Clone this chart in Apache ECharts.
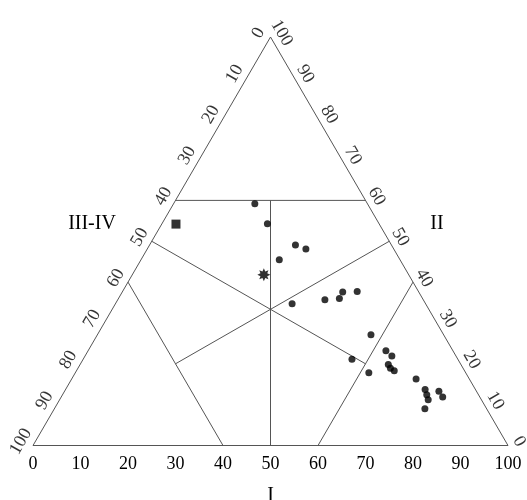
<!DOCTYPE html>
<html><head><meta charset="utf-8">
<script src="https://cdn.jsdelivr.net/npm/echarts@6/dist/echarts.min.js"></script>
<style>html,body{margin:0;padding:0;background:#fff}#c{width:527px;height:500px}</style>
</head><body><div id="c"></div>
<script>
// Ternary compositions (%): I (bottom axis), II (right axis); III-IV = 100 - I - II (left axis)
const dotI  = [17.1,22.2,30.7,33.4,29.1,37.2,43.6,46.5,46.4,49.4,57.6,56.6,61.8,62.7,64.6,64.9,65.8,66.9,72.5,75.7,76.7,77.6,78.8,80.3,78.0];
const dotII = [59.2,54.3,49.1,48.1,45.5,34.7,35.7,36.0,37.6,37.7,27.1,21.1,17.8,23.2,21.9,19.8,18.9,18.3,16.3,13.7,12.4,11.2,13.3,11.9,9.0];
const squareI = [3.0];
const squareII = [54.2];
const starI = [27.7];
const starII = [41.8];
const tickValues = [0,10,20,30,40,50,60,70,80,90,100];
const titleBottom = 'I';
const titleRight = 'II';
const titleLeft = 'III-IV';

// field boundaries, as ternary (I, II) pairs
const C3 = 100/3;
const boundaries = [
  [[0,0],[100,0],[0,100],[0,0]],
  [[0,60],[40,60]],
  [[50,0],[20,60]],
  [[C3,C3],[0,50]],
  [[C3,C3],[50,50]],
  [[C3,C3],[20,20]],
  [[C3,C3],[60,20]],
  [[0,40],[40,0]],
  [[60,40],[60,0]]
];

function toXY(I, II){ return [I + II/2, II]; }

const GRID = {left:33, right:19, top:37, bottom:54.5};
const pxX = (527 - GRID.left - GRID.right)/100;
const pxY = (500 - GRID.top - GRID.bottom)/100;
const serif = '"Liberation Serif","DejaVu Serif",serif';
const lineColor = '#555';
const textColor = '#000';

const series = [];
boundaries.forEach(seg => {
  series.push({type:'line', data: seg.map(p => toXY(p[0], p[1])), symbol:'none', silent:true,
    lineStyle:{color:lineColor, width:1}, z:1});
});

function tickSeries(side){
  const dx = side === 'left' ? -12 : 11, dy = -4;
  const data = tickValues.map(v => {
    const xy = side === 'left' ? toXY(0, 100 - v) : toXY(100 - v, v);
    return {value:[xy[0] + dx/pxX, xy[1] - dy/pxY], name:String(v)};
  });
  return {type:'scatter', data, symbolSize:0, silent:true, z:3, clip:false,
    label:{show:true, position:'inside', formatter:'{b}', rotate: side === 'left' ? 60 : -60,
      fontFamily:serif, fontSize:18, color:textColor}};
}
series.push(tickSeries('left'), tickSeries('right'));

series.push({type:'scatter', symbol:'circle', symbolSize:7, itemStyle:{color:'#000'}, z:5, clip:false,
  data: dotI.map((v,i) => toXY(v, dotII[i]))});
series.push({type:'scatter', symbol:'rect', symbolSize:9, itemStyle:{color:'#000'}, z:5, clip:false,
  data: squareI.map((v,i) => toXY(v, squareII[i]))});
series.push({type:'scatter', z:5, symbolSize:13, itemStyle:{color:'#000'}, clip:false,
  symbol:'path://M100,50L75.87,60.72L85.36,85.36L60.72,75.87L50,100L39.28,75.87L14.64,85.36L24.13,60.72L0,50L24.13,39.28L14.64,14.64L39.28,24.13L50,0L60.72,24.13L85.36,14.64L75.87,39.28Z',
  data: starI.map((v,i) => toXY(v, starII[i]))});

const chart = echarts.init(document.getElementById('c'));
chart.setOption({
  animation:false,
  backgroundColor:'#fff',
  grid:{left:GRID.left, right:GRID.right, top:GRID.top, bottom:GRID.bottom, outerBoundsMode:'none'},
  xAxis:{type:'value', min:0, max:100, interval:10,
    axisLine:{show:false}, axisTick:{show:false}, splitLine:{show:false},
    axisLabel:{fontFamily:serif, fontSize:18, color:textColor, margin:10},
    name:titleBottom, nameLocation:'middle', nameGap:40,
    nameTextStyle:{fontFamily:serif, fontSize:20, color:textColor}},
  yAxis:{type:'value', min:0, max:100, show:false},
  graphic:[
    {type:'text', x:92, y:224, style:{text:titleLeft, fontFamily:serif, fontSize:20, fill:textColor, align:'center', verticalAlign:'middle'}},
    {type:'text', x:437, y:224, style:{text:titleRight, fontFamily:serif, fontSize:20, fill:textColor, align:'center', verticalAlign:'middle'}}
  ],
  series
});
</script></body></html>
